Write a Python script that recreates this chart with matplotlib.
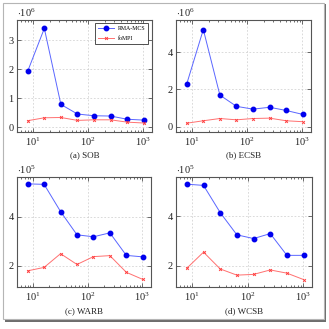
import matplotlib
matplotlib.use("Agg")
import matplotlib.pyplot as plt
from matplotlib.patches import Rectangle
from matplotlib.ticker import LogLocator, NullFormatter, FixedLocator

plt.rcParams["font.family"] = "Liberation Serif"
plt.rcParams["mathtext.fontset"] = "custom"
plt.rcParams["mathtext.rm"] = "Liberation Serif"
plt.rcParams["mathtext.it"] = "Liberation Serif:italic"

# number of processes (x axis)
procs = [8, 16, 32, 64, 128, 256, 512, 1024]

# throughput per benchmark, in units of 10^exp
sob_rma = [1.93, 3.40, 0.78, 0.45, 0.39, 0.38, 0.27, 0.24]
sob_fompi = [0.22, 0.32, 0.33, 0.23, 0.25, 0.25, 0.17, 0.14]
ecsb_rma = [2.30, 5.20, 1.70, 1.10, 0.95, 1.05, 0.88, 0.67]
ecsb_fompi = [0.20, 0.33, 0.45, 0.38, 0.45, 0.47, 0.33, 0.28]
warb_rma = [5.35, 5.33, 4.22, 3.27, 3.19, 3.35, 2.43, 2.37]
warb_fompi = [1.80, 1.94, 2.50, 2.06, 2.38, 2.42, 1.74, 1.45]
wcsb_rma = [5.30, 5.25, 4.15, 3.25, 3.10, 3.30, 2.42, 2.42]
wcsb_fompi = [1.90, 2.55, 1.87, 1.62, 1.65, 1.83, 1.70, 1.44]

captions = ["(a) SOB", "(b) ECSB", "(c) WARB", "(d) WCSB"]
exponents = [6, 6, 5, 5]
series = [(sob_rma, sob_fompi), (ecsb_rma, ecsb_fompi),
          (warb_rma, warb_fompi), (wcsb_rma, wcsb_fompi)]
yticks = [[0, 1, 2, 3], [0, 2, 4], [2, 4], [2, 4]]
ylims = [(-0.17, 3.69), (-0.27, 5.71), (1.14, 5.63), (1.14, 5.59)]

W = H = 329
fig = plt.figure(figsize=(W / 100, H / 100), dpi=100)

# page frame with a drop shadow
fig.patches.append(Rectangle((5 / W, 1 - 322 / H), 321 / W, 318 / H,
                             transform=fig.transFigure, facecolor="#6e6e6e",
                             edgecolor="none", zorder=-3))
fig.patches.append(Rectangle((3 / W, 1 - 319 / H), 321 / W, 316 / H,
                             transform=fig.transFigure, facecolor="white",
                             edgecolor="#b5b5b5", linewidth=0.8, zorder=-2))

# axes boxes in pixels: left, top, right, bottom
boxes = [(17, 20, 152, 132), (176, 20, 311, 132),
         (17, 177, 151, 287), (176, 177, 312, 287)]
caption_y = [155, 155, 311, 311]

for i, (l, t, r, b) in enumerate(boxes):
    ax = fig.add_axes([l / W, 1 - b / H, (r - l) / W, (b - t) / H])
    rma, fompi = series[i]
    ax.plot(procs, rma, color="#5a66ff", lw=0.7, marker="o", ms=3.2,
            mfc="#0000ee", mec="#0000ee", label="RMA-MCS", zorder=3)
    ax.plot(procs, fompi, color="#ff7070", lw=0.7, marker="x", ms=2.0,
            mew=0.7, mec="#ff4040", label="foMPI", zorder=3)
    ax.set_xscale("log")
    ax.set_xlim(5.1, 1450)
    ax.set_ylim(*ylims[i])
    ax.xaxis.set_major_locator(LogLocator(base=10, numticks=10))
    ax.xaxis.set_minor_locator(LogLocator(base=10, subs=range(2, 10), numticks=10))
    ax.xaxis.set_minor_formatter(NullFormatter())
    ax.yaxis.set_major_locator(FixedLocator(yticks[i]))
    ax.set_yticklabels([str(v) for v in yticks[i]])
    ax.tick_params(which="both", direction="in", top=True, right=True,
                   labelsize=7.5, pad=2.5, width=0.5, colors="#333333",
                   labelcolor="#222222")
    ax.tick_params(which="major", length=3)
    ax.tick_params(which="minor", length=1.6)
    ax.grid(True, which="major", linestyle=(0, (2.5, 2.5)), color="#cccccc",
            linewidth=0.5)
    for sp in ax.spines.values():
        sp.set_linewidth(0.8)
        sp.set_color("#555555")
    ax.text(0.0, 1.01, r"$\cdot 10^{%d}$" % exponents[i], transform=ax.transAxes,
            fontsize=7.5, ha="left", va="bottom", color="#222222")
    fig.text((l + r) / 2 / W, 1 - caption_y[i] / H, captions[i], fontsize=6.5,
             ha="center", va="center", color="#222222")
    if i == 0:
        leg = ax.legend(loc="upper right", fontsize=4.2, frameon=True,
                        fancybox=False, framealpha=1, edgecolor="#333333",
                        borderpad=0.5, handlelength=2.8, labelspacing=0.7,
                        borderaxespad=0.6, handletextpad=0.6)
        leg.get_frame().set_linewidth(0.6)

fig.savefig("out.png", dpi=100)
